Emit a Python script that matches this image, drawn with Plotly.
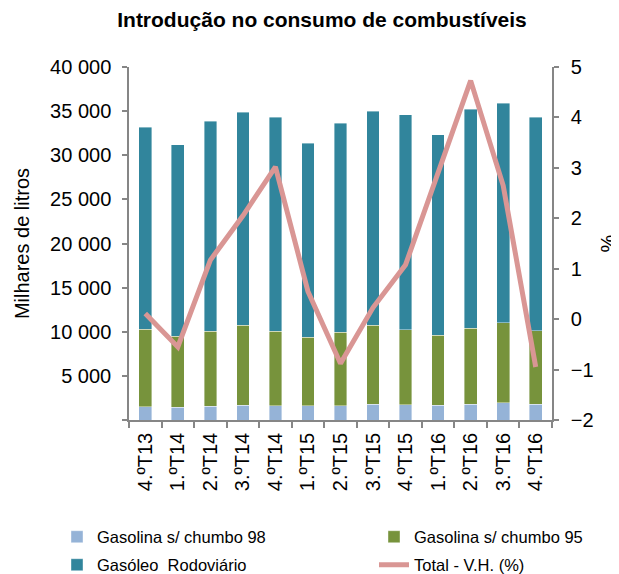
import plotly.graph_objects as go

categories = ["4.ºT13", "1.ºT14", "2.ºT14", "3.ºT14", "4.ºT14", "1.ºT15", "2.ºT15",
              "3.ºT15", "4.ºT15", "1.ºT16", "2.ºT16", "3.ºT16", "4.ºT16"]
gasolina98 = [1510, 1440, 1550, 1700, 1590, 1590, 1590, 1780, 1740, 1700, 1810, 1960, 1810]
gasolina95 = [8770, 8040, 8500, 9030, 8460, 7780, 8380, 8980, 8460, 7900, 8580, 9070, 8310]
gasoleo = [22920, 21720, 23800, 24170, 24250, 21980, 23630, 24240, 24400, 22700, 24810, 24870, 24180]
total_vh = [0.11, -0.55, 1.17, 2.05, 3.02, 0.55, -0.88, 0.23, 1.08, 2.92, 4.73, 2.65, -0.95]

left_ticks = [0, 5000, 10000, 15000, 20000, 25000, 30000, 35000, 40000]
left_ticktext = ["", "5 000", "10 000", "15 000", "20 000", "25 000", "30 000", "35 000", "40 000"]

FONT = "Liberation Sans, Arial, sans-serif"
AXIS = "#868686"
EDGE = dict(color="rgba(255,255,255,0.5)", width=0.8)

fig = go.Figure()
fig.add_trace(go.Bar(x=categories, y=gasolina98, name="Gasolina s/ chumbo 98",
                     marker=dict(color="#95B3D7", line=EDGE), legend="legend", showlegend=True))
fig.add_trace(go.Bar(x=categories, y=gasolina95, name="Gasolina s/ chumbo 95",
                     marker=dict(color="#77933C", line=EDGE), legend="legend2", showlegend=True))
fig.add_trace(go.Bar(x=categories, y=gasoleo, name="Gasóleo  Rodoviário",
                     marker=dict(color="#31859C", line=EDGE), legend="legend3", showlegend=True))
fig.add_trace(go.Scatter(x=categories, y=total_vh, name="Total - V.H. (%)", mode="lines",
                         line=dict(color="#D99694", width=5), yaxis="y2", legend="legend4",
                         showlegend=True))

# the page body adds an 8px margin, so the figure is laid out 8px up/left
W, H = 611, 566
PL, PT, PW, PH = 121, 59, 423, 353


def leg(px, py):
    return dict(orientation="h", xanchor="left", yanchor="middle",
                x=(px - PL) / PW, y=1 - (py - PT) / PH, visible=True,
                font=dict(family=FONT, size=16.5, color="#000000"),
                bgcolor="rgba(0,0,0,0)", borderwidth=0)


fig.update_layout(
    width=W, height=H, showlegend=True,
    barmode="stack", bargap=0.61,
    plot_bgcolor="white", paper_bgcolor="white",
    margin=dict(l=PL, r=W - PL - PW, t=PT, b=H - PT - PH, autoexpand=False),
    font=dict(family=FONT, size=20, color="#000000"),
    title=dict(text="<b>Introdução no consumo de combustíveis</b>",
               x=314 / W, xanchor="center", y=1 - 12 / H, yanchor="middle",
               font=dict(family=FONT, size=21, color="#000000")),
    xaxis=dict(type="category", showgrid=False, showline=True, linecolor=AXIS, linewidth=1.5,
               ticks="outside", tickson="boundaries", ticklen=6, tickcolor=AXIS, tickwidth=1.5,
               tickangle=-90, tickfont=dict(size=20), ticklabelstandoff=3),
    yaxis=dict(range=[0, 40000], tickvals=left_ticks, ticktext=left_ticktext,
               showgrid=False, zeroline=False, showline=True, linecolor=AXIS, linewidth=1.5,
               ticks="outside", ticklen=5, tickcolor=AXIS, tickwidth=1.5,
               tickfont=dict(size=20), ticklabelstandoff=7,
               title=dict(text="Milhares de litros", font=dict(size=20), standoff=15)),
    yaxis2=dict(range=[-2, 5], dtick=1, overlaying="y", side="right",
                showgrid=False, zeroline=False, showline=True, linecolor=AXIS, linewidth=1.5,
                ticks="outside", ticklen=5, tickcolor=AXIS, tickwidth=1.5,
                tickfont=dict(size=20), ticklabelstandoff=8,
                title=dict(text="%", font=dict(size=20), standoff=17)),
    legend=leg(49, 529),
    legend2=leg(366, 529),
    legend3=leg(49, 557),
    legend4=leg(366, 557),
)

fig.write_html("out.html")
